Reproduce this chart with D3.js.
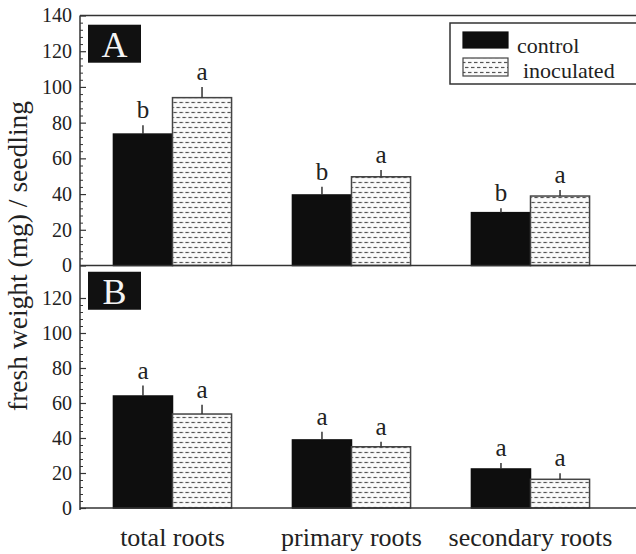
<!DOCTYPE html>
<html>
<head>
<meta charset="utf-8">
<script src="https://cdn.jsdelivr.net/npm/d3@7"></script>
<style>
  html, body { margin: 0; padding: 0; background: #fff; }
  svg { display: block; }
</style>
</head>
<body>
<svg id="chart" width="636" height="554"></svg>
<script>
// ---- data ----
const categories = ["total roots", "primary roots", "secondary roots"];
const seriesNames = ["control", "inoculated"];

const controlA = [73.6, 39.5, 29.6];
const controlAErr = [5.0, 4.6, 2.5];
const inoculatedA = [94.0, 49.7, 38.9];
const inoculatedAErr = [6.0, 3.8, 3.4];
const lettersControlA = ["b", "b", "b"];
const lettersInoculatedA = ["a", "a", "a"];

const controlB = [64.0, 38.9, 22.3];
const controlBErr = [6.0, 4.7, 3.4];
const inoculatedB = [53.7, 35.0, 16.4];
const inoculatedBErr = [5.3, 2.9, 3.4];
const lettersControlB = ["a", "a", "a"];
const lettersInoculatedB = ["a", "a", "a"];

const yTicksA = [0, 20, 40, 60, 80, 100, 120, 140];
const yTicksB = [0, 20, 40, 60, 80, 100, 120];
const yTitle = "fresh weight (mg) / seedling";
const panelLabels = ["A", "B"];

// ---- layout ----
const FONT = "'Liberation Serif'";
const svg = d3.select("#chart").style("font-family", FONT);
const axisX = 80;
const rightEdge = 640;

const x = d3.scaleBand().domain(categories).range([83, 620]).paddingInner(0.34).paddingOuter(0.17);
const xs = d3.scaleBand().domain(seriesNames).range([0, x.bandwidth()]);

const yA = d3.scaleLinear().domain([0, 140]).range([265.5, 15.5]);
const yB = d3.scaleLinear().domain([0, 140]).range([508, 263]);

// pattern for inoculated bars
const defs = svg.append("defs");
const pat = defs.append("pattern").attr("id", "dash").attr("patternUnits", "userSpaceOnUse")
  .attr("width", 12).attr("height", 10);
pat.append("rect").attr("width", 12).attr("height", 10).attr("fill", "#fbfbfb");
[[0, 3.5, 2.5], [6, 9.5, 2.5], [3, 6.5, 7.5], [9, 12.5, 7.5], [-3, 0.5, 7.5]].forEach(d => {
  pat.append("line").attr("x1", d[0]).attr("x2", d[1]).attr("y1", d[2]).attr("y2", d[2])
    .attr("stroke", "#555").attr("stroke-width", 1.2);
});

const fills = { control: "#0e0e0e", inoculated: "url(#dash)" };

function drawPanel(y, ticks, ctrl, ctrlErr, inoc, inocErr, letC, letI) {
  const rows = categories.map((c, i) => ({
    cat: c,
    items: [
      { s: "control", v: ctrl[i], e: ctrlErr[i], l: letC[i] },
      { s: "inoculated", v: inoc[i], e: inocErr[i], l: letI[i] }
    ]
  }));
  const g = svg.append("g");
  const grp = g.selectAll("g.grp").data(rows).join("g")
    .attr("transform", d => `translate(${x(d.cat)},0)`);
  const it = grp.selectAll("g.it").data(d => d.items).join("g");
  it.append("rect")
    .attr("x", d => xs(d.s))
    .attr("width", xs.bandwidth())
    .attr("y", d => y(d.v))
    .attr("height", d => y(0) - y(d.v))
    .attr("fill", d => fills[d.s])
    .attr("stroke", d => d.s === "control" ? "#0e0e0e" : "#444")
    .attr("stroke-width", 1.5);
  it.append("line")
    .attr("x1", d => xs(d.s) + xs.bandwidth() / 2)
    .attr("x2", d => xs(d.s) + xs.bandwidth() / 2)
    .attr("y1", d => y(d.v))
    .attr("y2", d => y(d.v + d.e))
    .attr("stroke", "#333").attr("stroke-width", 1.5);
  it.append("text")
    .attr("x", d => xs(d.s) + xs.bandwidth() / 2)
    .attr("y", d => y(d.v + d.e) - 7)
    .attr("text-anchor", "middle")
    .style("font-family", FONT)
    .style("font-size", "25px")
    .style("fill", "#222")
    .text(d => d.l);

  // major ticks + labels
  const ax = d3.axisLeft(y).tickValues(ticks).tickSize(-6).tickPadding(8).tickFormat(d3.format("d"));
  svg.append("g").attr("transform", `translate(${axisX},0)`).call(ax)
    .call(s => s.select(".domain").remove())
    .call(s => s.selectAll("line").attr("stroke", "#333").attr("stroke-width", 1.2))
    .call(s => s.selectAll("text").style("font-family", FONT).style("font-size", "20px").style("fill", "#222"));
  // minor ticks
  const minor = d3.range(0, d3.max(ticks) + 1, 4).filter(v => !ticks.includes(v));
  svg.append("g").attr("transform", `translate(${axisX},0)`)
    .call(d3.axisLeft(y).tickValues(minor).tickSize(-3).tickFormat(""))
    .call(s => s.select(".domain").remove())
    .call(s => s.selectAll("line").attr("stroke", "#333").attr("stroke-width", 1));

  // baseline
  svg.append("line").attr("x1", axisX).attr("x2", rightEdge)
    .attr("y1", y(0)).attr("y2", y(0)).attr("stroke", "#333").attr("stroke-width", 1.5);
}

drawPanel(yA, yTicksA, controlA, controlAErr, inoculatedA, inoculatedAErr, lettersControlA, lettersInoculatedA);
drawPanel(yB, yTicksB, controlB, controlBErr, inoculatedB, inoculatedBErr, lettersControlB, lettersInoculatedB);

// top border and y axis line
svg.append("line").attr("x1", axisX).attr("x2", rightEdge).attr("y1", yA(140)).attr("y2", yA(140))
  .attr("stroke", "#333").attr("stroke-width", 1.5);
svg.append("line").attr("x1", axisX).attr("x2", axisX).attr("y1", yA(140)).attr("y2", yB(0) + 2)
  .attr("stroke", "#333").attr("stroke-width", 1.5);

// panel labels
[[yA, 127], [yB, 127]].forEach((p, i) => {
  const yy = p[0](p[1]);
  svg.append("rect").attr("x", 88).attr("y", yy - 14).attr("width", 53).attr("height", 38).attr("fill", "#111");
  svg.append("text").attr("x", 114.5).attr("y", yy + 18).attr("text-anchor", "middle")
    .style("font-family", FONT).style("font-size", "36px").style("fill", "#f4f4f4")
    .text(panelLabels[i]);
});

// x labels
svg.append("g").selectAll("text").data(categories).join("text")
  .attr("x", d => x(d) + x.bandwidth() / 2)
  .attr("y", 546)
  .attr("text-anchor", "middle")
  .style("font-family", FONT).style("font-size", "26px").style("fill", "#222")
  .text(d => d);

// y title
svg.append("text").attr("transform", "translate(27,256) rotate(-90)")
  .attr("text-anchor", "middle")
  .style("font-family", FONT).style("font-size", "27.5px").style("fill", "#222")
  .text(yTitle);

// legend
const lg = svg.append("g");
lg.append("rect").attr("x", 450).attr("y", 23).attr("width", 200).attr("height", 61)
  .attr("fill", "#fff").attr("stroke", "#333").attr("stroke-width", 1.5);
const legendRows = seriesNames.map((s, i) => ({ s, i }));
lg.selectAll("rect.sw").data(legendRows).join("rect").attr("class", "sw")
  .attr("x", 463).attr("y", d => 32 + d.i * 26).attr("width", 45).attr("height", d => d.i ? 18 : 16)
  .attr("fill", d => fills[d.s])
  .attr("stroke", d => d.i ? "#444" : "#0e0e0e").attr("stroke-width", 1.2);
lg.selectAll("text").data(legendRows).join("text")
  .attr("x", d => 517 + d.i * 6).attr("y", d => 53 + d.i * 25)
  .style("font-family", FONT).style("font-size", "22px").style("fill", "#222")
  .text(d => d.s);
</script>
</body>
</html>
